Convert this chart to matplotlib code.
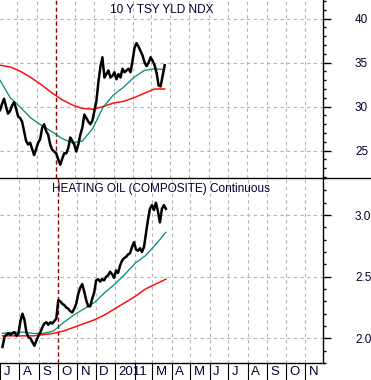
import pandas as pd
import matplotlib.pyplot as plt
import matplotlib.dates as mdates
from matplotlib.ticker import MultipleLocator, FormatStrFormatter
from matplotlib.lines import Line2D

plt.rcParams['font.family'] = ['Liberation Sans', 'DejaVu Sans']

# 10 Y TSY YLD NDX, sampled every ~3 days, Jul 5 2010 - Mar 23 2011
tsy = [29.6, 30.3, 30.9, 30.0, 29.2, 29.5, 30.1, 30.5, 29.8, 28.9, 28.7, 28.3,
       27.2, 26.1, 25.7, 25.9, 25.2, 24.5, 25.2, 25.9, 26.3, 27.6, 28.0, 27.2,
       26.8, 25.7, 25.1, 24.9, 24.7, 24.0, 23.4, 24.1, 24.7, 24.7, 25.3, 26.5,
       26.1, 25.7, 24.9, 25.7, 26.8, 27.6, 29.1, 28.7, 28.3, 28.0, 28.4, 29.5,
       30.6, 32.8, 34.5, 35.6, 33.3, 33.7, 34.1, 33.3, 33.5, 33.9, 33.1, 33.7,
       33.3, 34.3, 33.9, 34.1, 34.3, 33.9, 35.2, 36.7, 37.2, 36.8, 36.3, 35.8,
       35.0, 34.6, 35.0, 35.6, 35.2, 34.7, 33.8, 32.4, 32.3, 33.5, 34.7]
tsy_ma50 = [33.0, 31.0, 29.9, 28.7, 27.9, 27.2, 26.4, 25.9, 26.1, 27.5, 29.9,
            31.3, 32.2, 33.3, 34.1, 34.3, 34.2]
tsy_ma200 = [34.7, 34.5, 34.0, 33.3, 32.5, 31.6, 30.8, 30.2, 29.8, 29.7, 30.0,
             30.4, 30.6, 31.0, 31.5, 32.0, 32.0]

# HEATING OIL (COMPOSITE) Continuous
ho = [1.93, 2.01, 2.03, 2.04, 2.03, 2.04, 2.05, 2.02, 2.04, 2.14, 2.20, 2.15,
      2.05, 2.01, 2.00, 1.97, 1.94, 1.98, 2.02, 2.05, 2.09, 2.12, 2.13, 2.11,
      2.13, 2.12, 2.14, 2.16, 2.31, 2.30, 2.28, 2.27, 2.25, 2.24, 2.22, 2.21,
      2.24, 2.28, 2.36, 2.41, 2.44, 2.38, 2.31, 2.26, 2.26, 2.32, 2.37, 2.47,
      2.48, 2.46, 2.48, 2.47, 2.50, 2.51, 2.54, 2.52, 2.49, 2.55, 2.53, 2.59,
      2.63, 2.65, 2.66, 2.68, 2.69, 2.74, 2.78, 2.72, 2.71, 2.73, 2.70, 2.74,
      2.85, 2.96, 3.05, 3.08, 3.04, 3.10, 3.03, 2.94, 3.05, 3.08, 3.05]
ho_ma50 = [2.04, 2.05, 2.05, 2.04, 2.04, 2.06, 2.13, 2.19, 2.24, 2.29, 2.37,
           2.44, 2.52, 2.61, 2.67, 2.76, 2.86]
ho_ma200 = [2.02, 2.02, 2.02, 2.02, 2.03, 2.04, 2.06, 2.09, 2.12, 2.15, 2.19,
            2.24, 2.29, 2.34, 2.40, 2.44, 2.48]

month_labels = ['J', 'A', 'S', 'O', 'N', 'D', '2011', '', 'M', 'A', 'M', 'J',
                'J', 'A', 'S', 'O', 'N']
marker_date = pd.Timestamp('2010-10-01')

start, end = '2010-07-05', '2011-03-23'
d_px = pd.date_range(start, end, periods=len(tsy))
d_ma = pd.date_range(start, end, periods=len(tsy_ma50))
months = pd.date_range('2010-07-01', '2011-11-01', freq='MS')
xlim = (pd.Timestamp('2010-07-05'), pd.Timestamp('2011-11-29'))

txt = '#000030'
grid_kw = dict(color='#b4b4b4', lw=0.8, ls=(0, (3, 3)))

fig = plt.figure(figsize=(3.71, 3.80), dpi=100)
ax1 = fig.add_axes([0, 202 / 380, 323 / 371, 178 / 380])
ax2 = fig.add_axes([0, 17 / 380, 323 / 371, 185 / 380])

panels = [
    (ax1, tsy, tsy_ma50, tsy_ma200, '10 Y TSY YLD NDX', (21.9, 42.1), 5, 1, '%d'),
    (ax2, ho, ho_ma50, ho_ma200, 'HEATING OIL (COMPOSITE) Continuous', (1.8, 3.3), 0.5, 0.1, '%.1f'),
]

for ax, px, ma50, ma200, title, ylim, major, minor, fmt in panels:
    ax.set_xlim(*xlim)
    ax.set_ylim(*ylim)
    for m in months:
        if m != marker_date and xlim[0] < m < xlim[1]:
            ax.axvline(m, **grid_kw, zorder=1)
    for v in [v for v in [40, 35, 30, 25, 3.0, 2.5, 2.0] if ylim[0] < v < ylim[1]]:
        ax.axhline(v, **grid_kw, zorder=1)
    ax.axvline(marker_date, color='#8b0000', lw=1.0, ls=(0, (3, 2)), zorder=2)

    ax.plot(d_ma, ma200, color='#ff1010', lw=1.1, zorder=3)
    ax.plot(d_ma, ma50, color='#008878', lw=0.9, zorder=3)
    ax.plot(d_px, px, color='black', lw=1.8, zorder=4)

    ax.text(0.5, 0.98 if ax is ax1 else 0.975, title, transform=ax.transAxes,
            ha='center', va='top', fontsize=8.5, color=txt)

    for s in ['top', 'left']:
        ax.spines[s].set_visible(False)
    ax.spines['right'].set_linewidth(1.0)
    ax.yaxis.tick_right()
    ax.yaxis.set_major_locator(MultipleLocator(major))
    ax.yaxis.set_minor_locator(MultipleLocator(minor))
    ax.yaxis.set_major_formatter(FormatStrFormatter(fmt))
    ax.tick_params(axis='y', which='major', direction='out', length=6, width=1,
                   pad=17, labelsize=8.5, labelcolor=txt)
    ax.tick_params(axis='y', which='minor', direction='out', length=2.5, width=1)

ax1.spines['bottom'].set_visible(False)
ax1.set_xticks([])

ax2.spines['bottom'].set_linewidth(1.0)
ax2.set_xticks(months)
ax2.xaxis.set_major_formatter(mdates.DateFormatter(''))
ax2.tick_params(axis='x', direction='out', length=13, width=0.8, labelbottom=False)
for m, lab in zip(months, month_labels):
    if lab:
        ax2.annotate(lab, xy=(m, 0), xycoords=('data', 'axes fraction'),
                     xytext=(2.5, -6.8), textcoords='offset points',
                     ha='left', va='center', fontsize=9.5, color=txt,
                     annotation_clip=False)

fig.add_artist(Line2D([0, 1], [202 / 380, 202 / 380], color='black',
                      lw=1.0, transform=fig.transFigure))

fig.savefig('out.png', dpi=100)
